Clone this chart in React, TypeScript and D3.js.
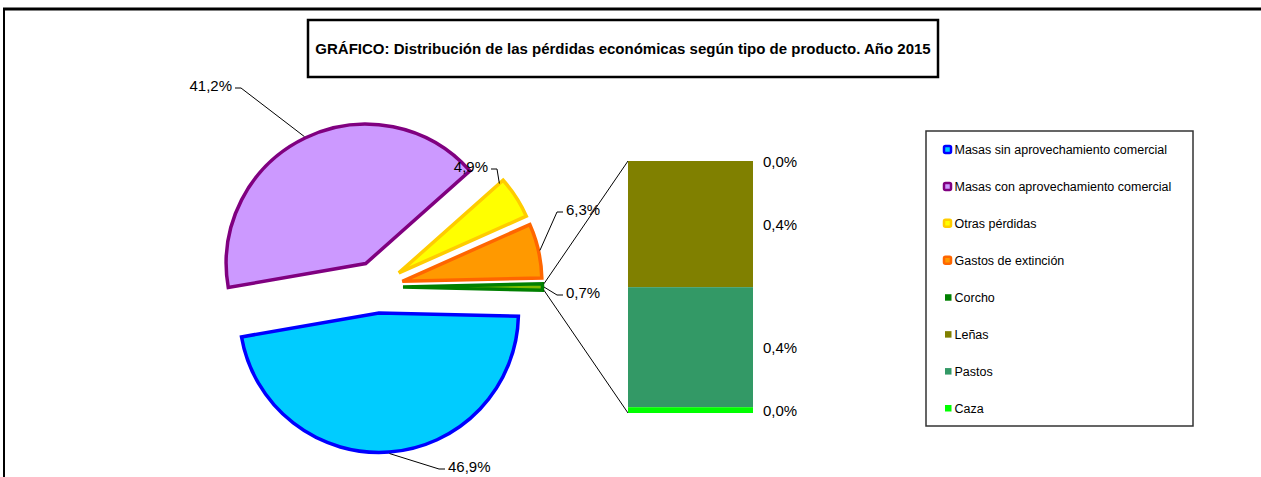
import React from "react";
import * as d3 from "d3";

// pie slices (percent of total losses)
const pieCategories = [
  "Masas sin aprovechamiento comercial",
  "Masas con aprovechamiento comercial",
  "Otras pérdidas",
  "Gastos de extinción",
];
const pieValues = [46.9, 41.2, 4.9, 6.3];
const pieFills = ["#00CCFF", "#CC99FF", "#FFFF00", "#FF9900"];
const pieStrokes = ["#0000FF", "#800080", "#FFCC00", "#FF6600"];

// items grouped in the bar
const barCategories = ["Corcho", "Leñas", "Pastos", "Caza"];
const barValues = [0.0, 0.37, 0.352, 0.017];
const barFills = ["#008000", "#808000", "#339966", "#00FF00"];

const otherFill = "#7DBB00";
const otherStroke = "#008000";

const title =
  "GRÁFICO: Distribución de las pérdidas económicas según tipo de producto. Año 2015";

const font = "Arial, 'Liberation Sans', sans-serif";
const locale = d3.formatLocale({
  decimal: ",",
  thousands: ".",
  grouping: [3],
  currency: ["", "€"],
});
const pct = (v: number) => locale.format(".1f")(v) + "%";

// label placement relative to pie centre
const labelLayout = [
  { dx: 71, dy: 179, anchor: "start", edge: false },
  { dx: -145, dy: -202, anchor: "end", edge: false },
  { dx: 111, dy: -121, anchor: "end", edge: true },
  { dx: 189, dy: -78, anchor: "start", edge: false },
  { dx: 189, dy: 5, anchor: "start", edge: false },
];

export default function App() {
  const width = 1261;
  const height = 477;
  const cx = 377;
  const cy = 287;
  const R = 139.5;
  const explode = 26;

  const otherTotal = d3.sum(barValues);
  const values = [...pieValues, otherTotal];
  const grand = d3.sum(values);
  const start = Math.PI / 2 + (otherTotal / grand) * Math.PI;

  const arcs = d3
    .pie<number>()
    .sort(null)
    .value((d) => d)
    .startAngle(start)
    .endAngle(start + 2 * Math.PI)(values);

  const arcGen = d3.arc<d3.PieArcDatum<number>>().innerRadius(0).outerRadius(R);

  const fills = [...pieFills, otherFill];
  const strokes = [...pieStrokes, otherStroke];

  const slices = arcs.map((a, i) => {
    const mid = (a.startAngle + a.endAngle) / 2;
    const ox = cx + Math.sin(mid) * explode;
    const oy = cy - Math.cos(mid) * explode;
    return { a, i, mid, ox, oy };
  });

  // bar
  const barX0 = 628;
  const barX1 = 753;
  const y = d3.scaleLinear().domain([0, otherTotal]).range([413, 161]);
  let acc = otherTotal;
  const segs = barValues.map((v, i) => {
    const top = acc;
    acc -= v;
    return { v, i, top, bottom: acc };
  });

  // connector lines from the "other" slice
  const other = slices[slices.length - 1];
  const rOuter = R + 1.5;
  const cTop = {
    x: other.ox + Math.sin(other.a.startAngle) * rOuter,
    y: other.oy - Math.cos(other.a.startAngle) * rOuter,
  };
  const cBot = {
    x: other.ox + Math.sin(other.a.endAngle) * rOuter,
    y: other.oy - Math.cos(other.a.endAngle) * rOuter,
  };

  const legendItems = [
    ...pieCategories.map((c, i) => ({ c, fill: pieFills[i], stroke: pieStrokes[i] })),
    ...barCategories.map((c, i) => ({ c, fill: barFills[i], stroke: null as string | null })),
  ];
  const legendY = d3
    .scalePoint<number>()
    .domain(d3.range(legendItems.length))
    .range([150, 408.5]);

  return (
    <svg
      width={width}
      height={height}
      style={{ position: "absolute", left: 0, top: 0, background: "#fff" }}
      fontFamily={font}
    >
      {/* outer chart frame */}
      <line x1={3} y1={9} x2={width} y2={9} stroke="#000" strokeWidth={3} />
      <line x1={4} y1={9} x2={4} y2={height} stroke="#000" strokeWidth={2} />

      {/* title */}
      <rect x={308} y={20} width={630} height={57} fill="#fff" stroke="#000" strokeWidth={2.5} />
      <text x={623} y={48} textAnchor="middle" dominantBaseline="central" fontSize={15} fontWeight="bold">
        {title}
      </text>

      {/* pie */}
      {slices.map((s) => (
        <path
          key={s.i}
          d={arcGen(s.a) || ""}
          transform={`translate(${s.ox},${s.oy})`}
          fill={fills[s.i]}
          stroke={strokes[s.i]}
          strokeWidth={3.5}
          strokeLinejoin="miter"
        />
      ))}

      {/* pie labels with leaders */}
      {slices.map((s) => {
        const L = labelLayout[s.i];
        const tx = cx + L.dx;
        const ty = cy + L.dy;
        const ang = L.edge ? s.a.startAngle : s.mid;
        const rr = L.edge ? R - 5 : R + 1.5;
        const ax = s.ox + Math.sin(ang) * rr;
        const ay = s.oy - Math.cos(ang) * rr;
        const sgn = L.anchor === "start" ? -1 : 1;
        const e1 = tx + sgn * 9;
        const e2 = tx + sgn * 3;
        return (
          <g key={"l" + s.i}>
            <polyline
              points={`${ax},${ay} ${e1},${ty + 3} ${e2},${ty + 3}`}
              fill="none"
              stroke="#000"
              strokeWidth={1}
            />
            <text
              x={tx}
              y={ty}
              textAnchor={L.anchor as any}
              dominantBaseline="central"
              fontSize={15}
              fill="#000"
            >
              {pct(s.a.data)}
            </text>
          </g>
        );
      })}

      {/* connectors */}
      <line x1={cTop.x} y1={cTop.y} x2={barX0} y2={y(otherTotal)} stroke="#000" strokeWidth={1} />
      <line x1={cBot.x} y1={cBot.y} x2={barX0} y2={y(0)} stroke="#000" strokeWidth={1} />

      {/* bar */}
      {segs.map((s) => (
        <rect
          key={"b" + s.i}
          x={barX0}
          y={y(s.top)}
          width={barX1 - barX0}
          height={y(s.bottom) - y(s.top)}
          fill={barFills[s.i]}
        />
      ))}
      {segs.map((s) => (
        <text
          key={"bt" + s.i}
          x={763}
          y={(y(s.top) + y(s.bottom)) / 2}
          dominantBaseline="central"
          fontSize={15}
        >
          {pct(s.v)}
        </text>
      ))}

      {/* legend */}
      <rect x={926} y={131} width={267} height={295} fill="#fff" stroke="#333" strokeWidth={1.5} />
      {legendItems.map((it, i) => {
        const ly = legendY(i) as number;
        return (
          <g key={"lg" + i}>
            {it.stroke ? (
              <rect
                x={944}
                y={ly - 4}
                width={7}
                height={7}
                rx={1.5}
                fill={it.fill}
                stroke={it.stroke}
                strokeWidth={2.5}
              />
            ) : (
              <rect x={945} y={ly - 3.5} width={6.5} height={6.5} fill={it.fill} />
            )}
            <text x={954.5} y={ly} dominantBaseline="central" fontSize={12.5}>
              {it.c}
            </text>
          </g>
        );
      })}
    </svg>
  );
}
